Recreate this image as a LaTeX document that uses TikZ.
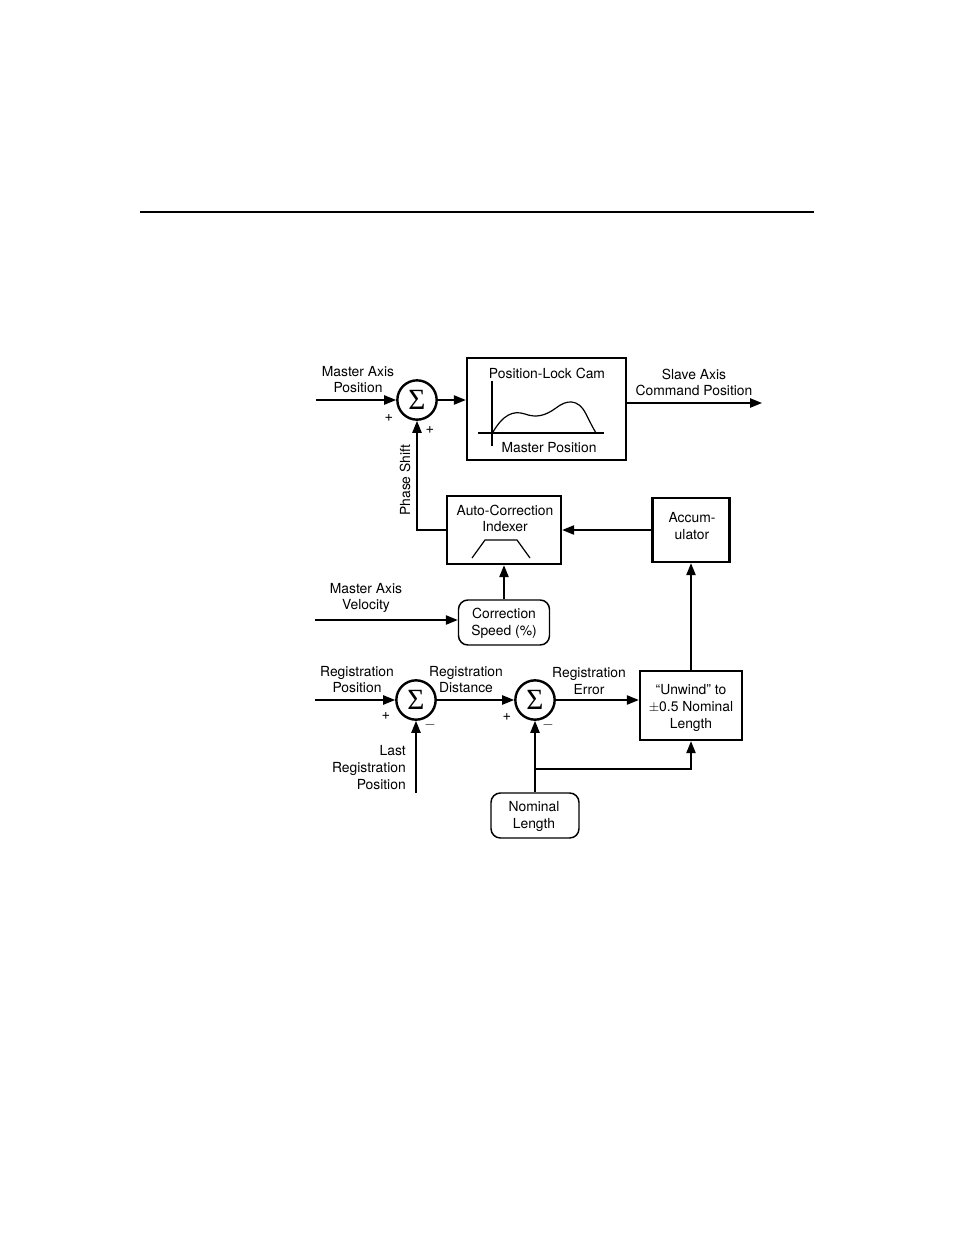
\documentclass[tikz,border=0pt]{standalone}
\usepackage{fontspec}
\setmainfont{TeX Gyre Heros}
\newfontfamily\sigfont{Liberation Serif}
\usetikzlibrary{arrows.meta}
\begin{document}
\begin{tikzpicture}[x=0.75pt,y=-0.75pt,
  txt/.style={font=\fontsize{10.4}{12.6}\selectfont,align=center,inner sep=0pt},
  sgn/.style={font=\fontsize{11}{12}\selectfont,inner sep=0pt},
  blk/.style={draw,line width=1.8pt,inner sep=0pt},
  rblk/.style={draw,line width=1.1pt,rounded corners=7pt,inner sep=0pt},
  sumnode/.style={draw,circle,line width=1.8pt,minimum size=29.5pt,inner sep=0pt,font=\sigfont\fontsize{22}{22}\selectfont},
  arr/.style={line width=1.1pt,-{Triangle[length=9pt,width=7pt]}},
  ln/.style={line width=1.1pt}]
\useasboundingbox (0,0) rectangle (954,1235);
\draw[line width=1.5pt] (140,212) -- (814,212);
% nodes
\node[sumnode] (s1) at (417,400) {Σ};
\node[sumnode] (s2) at (416,700) {Σ};
\node[sumnode] (s3) at (535,700) {Σ};
\node[blk,minimum width=119.25pt,minimum height=76.5pt] (cam) at (546.5,409) {};
\node[blk,minimum width=85.5pt,minimum height=51pt] (auto) at (504,530) {};
\node[blk,minimum width=57.75pt,minimum height=48pt] (acc) at (691,530) {};
\node[rblk,minimum width=68.25pt,minimum height=33.75pt] (corr) at (504,622.5) {};
\node[blk,minimum width=76.5pt,minimum height=51.75pt] (unw) at (691,705.5) {};
\node[rblk,minimum width=66pt,minimum height=33.75pt] (nom) at (535,815.5) {};
% box contents
\node[txt] (camt) at (547,373) {Position-Lock Cam};
\node[txt] (camx) at (549,448) {Master Position};
\draw[line width=1.1pt] (492,381) -- (492,446);
\draw[line width=1.1pt] (478,433) -- (604,433);
\draw[line width=0.9pt] (493,432) .. controls (503,415) and (513,410) .. (525,414)
  .. controls (536,418) and (545,416) .. (556,408)
  .. controls (566,400) and (578,398) .. (586,414)
  .. controls (590,422) and (593,428) .. (596,433);
\node[txt] (autot) at (505,518.5) {Auto-Correction\\Indexer};
\draw[line width=0.9pt] (472,558) -- (485,540) -- (517,540) -- (530,558);
\node[txt] (acct) at (692,526) {Accum-\\ulator};
\node[txt] (corrt) at (504,623.5) {Correction\\Speed (\%)};
\node[txt] (unwt) at (691,708) {``Unwind'' to\\$\pm$0.5 Nominal\\Length};
\node[txt] (nomt) at (534,816.5) {Nominal\\Length};
% labels
\node[txt] (lmap) at (358,379.5) {Master Axis\\Position};
\node[txt] (lslave) at (694,382.5) {Slave Axis\\Command Position};
\node[txt] (lmav) at (366,598) {Master Axis\\Velocity};
\node[txt] (lrp) at (357,679.5) {Registration\\Position};
\node[txt] (lrd) at (466,679.5) {Registration\\Distance};
\node[txt] (lre) at (589,681) {Registration\\Error};
\node[txt,align=right,anchor=east] (llrp) at (406,767.5) {Last\\Registration\\Position};
\node[txt,rotate=90] (lps) at (405,480) {Phase Shift};
\node[sgn] (p1) at (389,418) {+};
\node[sgn] (p2) at (430,430) {+};
\node[sgn] (p3) at (386,716) {+};
\node[sgn] (m1) at (430,725) {$-$};
\node[sgn] (p4) at (507,717) {+};
\node[sgn] (m2) at (548,725) {$-$};
% connectors
\coordinate (inmap) at (316,400);
\coordinate (outslave) at (762,403);
\coordinate (inmav) at (315,620);
\coordinate (inrp) at (315,700);
\coordinate (inlrp) at (416,793);
\coordinate (br) at (535,769);
\draw[arr] (inmap) -- (s1.west);
\draw[arr] (s1.east) -- (s1.east -| cam.west);
\draw[arr] (cam.east |- outslave) -- (outslave);
\draw[arr] (auto.west) -| (s1.south);
\draw[arr] (acc.west) -- (auto.east);
\draw[arr] (corr.north) -- (auto.south);
\draw[arr] (inmav) -- (inmav -| corr.west);
\draw[arr] (inrp) -- (s2.west);
\draw[arr] (inlrp) -- (s2.south);
\draw[arr] (s2.east) -- (s3.west);
\draw[arr] (s3.east) -- (s3.east -| unw.west);
\draw[arr] (unw.north) -- (acc.south);
\draw[arr] (nom.north) -- (s3.south);
\draw[arr] (br) -| (unw.south);
\end{tikzpicture}
\end{document}
